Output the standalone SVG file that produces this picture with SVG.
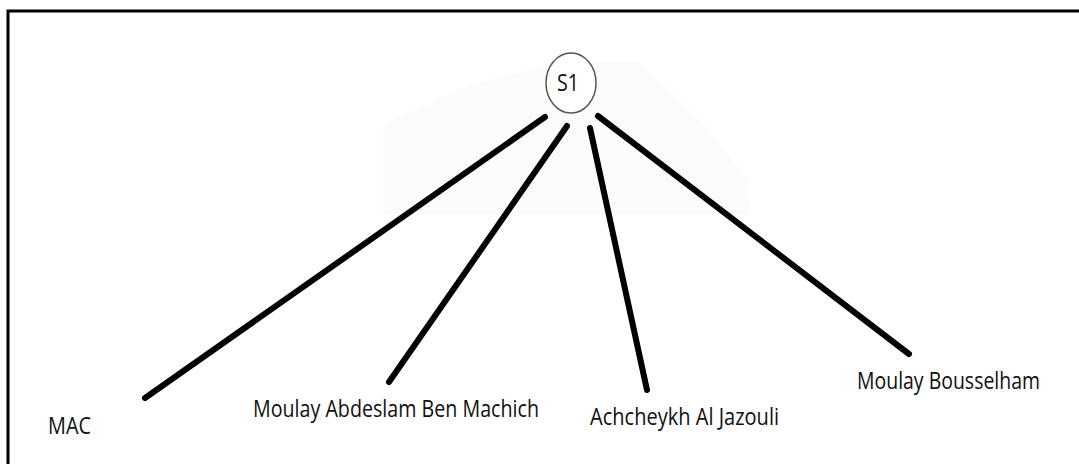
<svg xmlns="http://www.w3.org/2000/svg" width="1079" height="464" viewBox="0 0 1079 464">
<style>
.lbl{font-family:"Open Sans","Liberation Sans",sans-serif;font-size:23px;fill:#111}
.edge{stroke:#000;stroke-width:6;stroke-linecap:round;fill:none}
</style>
<rect width="1079" height="464" fill="#fff"/>
<polygon points="383,125 470,85 560,62 640,62 700,120 748,180 750,215 383,215" fill="#fbfbfb"/>
<path d="M8 464 V11 H1079" fill="none" stroke="#000" stroke-width="3"/>
<g id="connectors">
<line class="edge" x1="545" y1="117" x2="145" y2="398"/>
<line class="edge" x1="567" y1="126" x2="389" y2="382"/>
<line class="edge" x1="590" y1="128" x2="647" y2="390"/>
<line class="edge" x1="598" y1="116" x2="909" y2="354"/>
</g>
<g id="s1">
<ellipse cx="571" cy="83" rx="25" ry="30" fill="#fff" stroke="#555" stroke-width="1.5"/>
<text class="lbl" x="568" y="91" text-anchor="middle" font-size="21" textLength="22" lengthAdjust="spacingAndGlyphs">S1</text>
</g>
<g id="mac"><text class="lbl" x="48" y="434" textLength="43" lengthAdjust="spacingAndGlyphs">MAC</text></g>
<g id="machich"><text class="lbl" x="253" y="417" textLength="286" lengthAdjust="spacingAndGlyphs">Moulay Abdeslam Ben Machich</text></g>
<g id="jazouli"><text class="lbl" x="590" y="425" textLength="189" lengthAdjust="spacingAndGlyphs">Achcheykh Al Jazouli</text></g>
<g id="bousselham"><text class="lbl" x="857" y="389" textLength="183" lengthAdjust="spacingAndGlyphs">Moulay Bousselham</text></g>
</svg>
